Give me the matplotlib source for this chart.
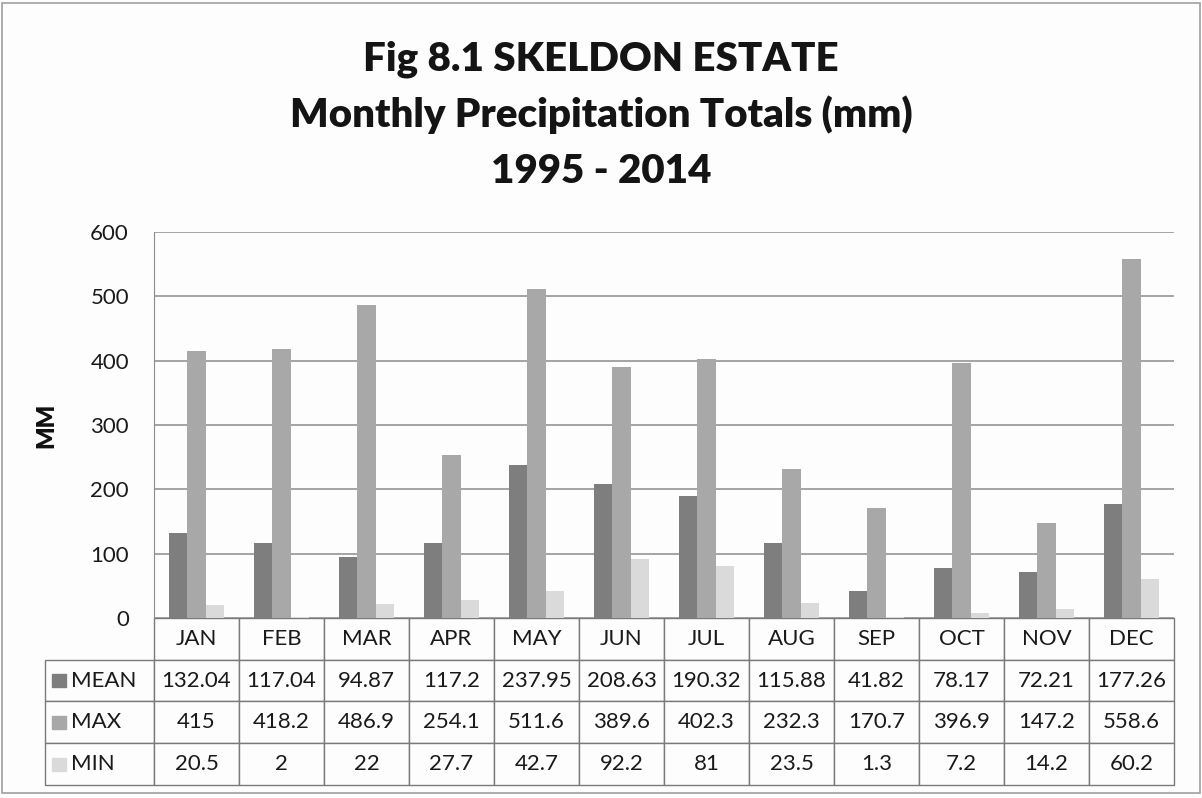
import matplotlib

matplotlib.use("Agg")
import matplotlib.pyplot as plt  # noqa: E402
import numpy as np  # noqa: E402
from matplotlib.patches import Rectangle  # noqa: E402

months = ["JAN", "FEB", "MAR", "APR", "MAY", "JUN", "JUL", "AUG", "SEP", "OCT", "NOV", "DEC"]
series = ["MEAN", "MAX", "MIN"]
mean_mm = [132.04, 117.04, 94.87, 117.2, 237.95, 208.63, 190.32, 115.88, 41.82, 78.17, 72.21, 177.26]
max_mm = [415, 418.2, 486.9, 254.1, 511.6, 389.6, 402.3, 232.3, 170.7, 396.9, 147.2, 558.6]
min_mm = [20.5, 2, 22, 27.7, 42.7, 92.2, 81, 23.5, 1.3, 7.2, 14.2, 60.2]
y_ticks = [0, 100, 200, 300, 400, 500, 600]
title_lines = ["Fig 8.1 SKELDON ESTATE", "Monthly Precipitation Totals (mm)", "1995 - 2014"]

_COLORS = ["#7e7e7e", "#a8a8a8", "#dadada"]
_GRID = "#8c8c8c"
_TEXT = "#1a1a1a"

plt.rcParams["font.family"] = ["Lato", "DejaVu Sans"]

fig = plt.figure(figsize=(12.02, 7.98), dpi=100, facecolor="#fdfdfd")
fig.patches.append(Rectangle((0.002, 0.006), 0.996, 0.99, transform=fig.transFigure,
                             fill=False, edgecolor="#a0a0a0", lw=1.2))

for txt, yb in zip(title_lines, [0.912, 0.841, 0.771]):
    fig.text(0.5, yb, txt, ha="center", va="baseline", fontsize=29, fontweight="heavy", color="#141414")

ax = fig.add_axes([0.1281, 0.2256, 0.8486, 0.4837])
ax.set_facecolor("#fdfdfd")
x = np.arange(len(months))
w = 0.217
for i, (vals, col) in enumerate(zip([mean_mm, max_mm, min_mm], _COLORS)):
    ax.bar(x + (i - 1) * w, vals, width=w, color=col, zorder=2)

ax.set_xlim(-0.5, len(months) - 0.5)
ax.set_ylim(y_ticks[0], y_ticks[-1])
ax.set_yticks(y_ticks)
ax.set_xticks([])
ax.yaxis.grid(True, color=_GRID, lw=1.1)
ax.set_axisbelow(True)
for side in ("top", "right", "bottom"):
    ax.spines[side].set_visible(False)
ax.spines["left"].set_color(_GRID)
ax.tick_params(axis="y", length=0, pad=18, labelsize=16, labelcolor=_TEXT)
ax.set_ylabel("MM", fontsize=17, fontweight="heavy", color="#111111")
ax.yaxis.set_label_coords(-0.095, 0.5)

# data table under the plot, first column holds the series names
lab_w = 0.1069
tab_h = 0.4326
cell_text = [[""] + [f"{v:g}" for v in vals] for vals in (mean_mm, max_mm, min_mm)]
tbl = ax.table(cellText=cell_text, colLabels=[""] + months, cellLoc="center",
               colWidths=[lab_w] + [1 / len(months)] * len(months),
               bbox=[-lab_w, -tab_h, 1 + lab_w, tab_h])
tbl.auto_set_font_size(False)
tbl.set_fontsize(16)
for (r, c), cell in tbl.get_celld().items():
    cell.set_edgecolor("#7a7a7a")
    cell.set_linewidth(1.0)
    cell.set_facecolor("#fdfdfd")
    cell.get_text().set_color(_TEXT)
tbl[0, 0].set_visible(False)

row_h = tab_h / 4
for k, (name, col) in enumerate(zip(series, _COLORS)):
    yc = -(k + 1.5) * row_h
    ax.add_patch(Rectangle((-0.0995, yc - 0.017), 0.0135, 0.034, transform=ax.transAxes,
                           color=col, clip_on=False))
    ax.text(-0.081, yc, name, transform=ax.transAxes, ha="left", va="center",
            fontsize=16, color=_TEXT)

fig.savefig("out.png", dpi=100, facecolor=fig.get_facecolor())
